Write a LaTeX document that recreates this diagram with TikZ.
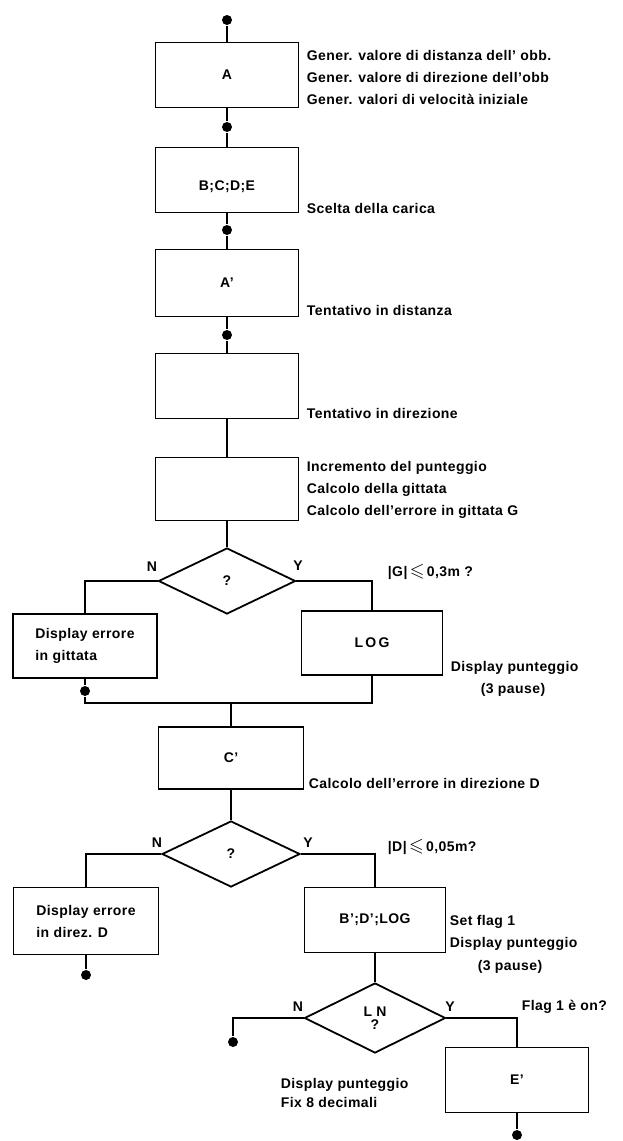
\documentclass[tikz,border=0pt]{standalone}
\usepackage{amsmath,amssymb}
\usepackage{fontspec}
\setmainfont{Liberation Sans}[LetterSpace=3]
\usepackage{tikz}
\usetikzlibrary{shapes.geometric}

\newcommand{\flowfont}{\bfseries\fontsize{14}{22}\selectfont}
\newcommand{\bigleq}{{\fontsize{19}{19}\selectfont$\leqslant$}}

\begin{document}
\begin{tikzpicture}[x=1pt, y=-1pt, line width=1.8pt,
    block/.style={rectangle, draw, minimum width=143pt, minimum height=65pt, inner sep=0pt, font=\flowfont},
    test/.style={diamond, draw, minimum width=137pt, minimum height=66pt, inner sep=0pt, align=center, font=\bfseries\fontsize{14}{12}\selectfont},
    dot/.style={circle, fill, inner sep=0pt, minimum size=10pt},
    note/.style={anchor=west, align=left, inner sep=0pt, font=\flowfont},
    lbl/.style={inner sep=0pt, font=\flowfont}]

    \useasboundingbox (0,0) rectangle (622,1141);

    \node[dot] (d0) at (227,20) {};
    \node[block] (A) at (227,75) {A};
    \node[dot] (d1) at (227,127) {};
    \node[block, label={[lbl, yshift=-7pt]center:B;C;D;E}] (BCDE) at (227,180) {};
    \node[dot] (d2) at (227,230) {};
    \node[block, minimum height=67pt] (A1) at (227,283) {A'};
    \node[dot] (d3) at (227,335) {};
    \node[block] (Dir) at (227,386) {};
    \node[block, minimum height=63pt] (Inc) at (227,489) {};
    \node[test] (Q1) at (227,581) {?};
    \node[block, minimum width=144pt, minimum height=64pt, align=left] (ErrG) at (85,646) {Display errore\\in gittata};
    \node[block, minimum width=141pt, minimum height=64pt] (LOG1) at (372,643) {L\,O\,G};
    \node[dot] (d4) at (85,691) {};
    \coordinate (J1) at (231,703);
    \node[block, minimum width=145pt, minimum height=62pt] (C1) at (231,758) {C'};
    \node[test, minimum width=138pt] (Q2) at (231,854) {?};
    \node[block, minimum width=145pt, minimum height=67pt, align=left] (ErrD) at (86,921) {Display errore\\in direz. D};
    \node[dot] (d5) at (86,975) {};
    \node[block, minimum width=141pt] (BDL) at (375,920) {B';D';LOG};
    \node[test, minimum width=141pt, minimum height=70pt] (Q3) at (375,1018) {L N\\[1pt]?};
    \node[dot] (d6) at (233,1042) {};
    \node[block] (E1) at (517,1080) {E'};
    \node[dot] (d7) at (517,1135) {};

    \draw (d0) -- (A) -- (d1) -- (BCDE) -- (d2) -- (A1) -- (d3) -- (Dir) -- (Inc) -- (Q1);
    \draw (Q1.west) -| (ErrG.north);
    \draw (Q1.east) -| (LOG1.north);
    \draw (ErrG) -- (d4) |- (J1);
    \draw (LOG1.south) |- (J1);
    \draw (J1) -- (C1) -- (Q2);
    \draw (Q2.west) -| (ErrD.north);
    \draw (Q2.east) -| (BDL.north);
    \draw (ErrD) -- (d5);
    \draw (BDL) -- (Q3);
    \draw (Q3.west) -| (d6);
    \draw (Q3.east) -| (E1.north);
    \draw (E1) -- (d7);

    \node[note] (tA) at (306,77) {Gener. valore di distanza dell' obb.\\Gener. valore di direzione dell'obb\\Gener. valori di velocità iniziale};
    \node[note] (tB) at (306,208) {Scelta della carica};
    \node[note] (tA1) at (306,310) {Tentativo in distanza};
    \node[note] (tDir) at (306,413) {Tentativo in direzione};
    \node[note] (tInc) at (306,490) {Incremento del punteggio\\Calcolo della gittata\\Calcolo dell'errore in gittata G};
    \node[lbl] (n1) at (152,567) {N};
    \node[lbl] (y1) at (298,566) {Y};
    \node[note] (tG) at (387,572) {|G|\,\bigleq\,0,3m ?};
    \node[note] (tLOG) at (450,668) {Display punteggio};
    \node[lbl] (tP1) at (513,690) {(3 pause)};
    \node[note] (tC1) at (308,783) {Calcolo dell'errore in direzione D};
    \node[lbl] (n2) at (157,843) {N};
    \node[lbl] (y2) at (308,843) {Y};
    \node[note] (tD) at (387,847) {|D|\,\bigleq\,0,05m?};
    \node[note] (tBDL) at (449,933) {Set flag 1\\Display punteggio};
    \node[lbl] (tP2) at (510,967) {(3 pause)};
    \node[lbl] (n3) at (298,1007) {N};
    \node[lbl] (y3) at (450,1007) {Y};
    \node[note] (tQ3) at (521,1007) {Flag 1 è on?};
    \node[note, font=\bfseries\fontsize{14}{19}\selectfont] (tEnd) at (280,1093) {Display punteggio\\Fix 8 decimali};
\end{tikzpicture}
\end{document}
